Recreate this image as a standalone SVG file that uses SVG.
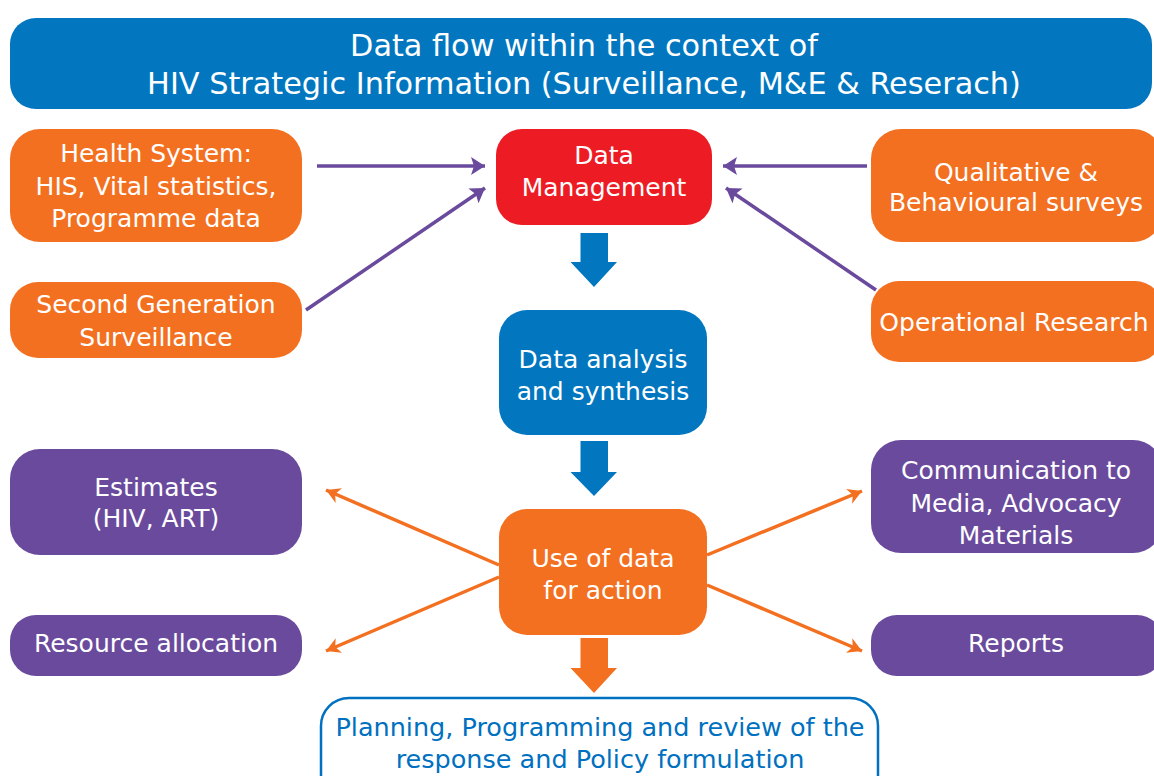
<svg xmlns="http://www.w3.org/2000/svg" width="1154" height="776" viewBox="0 0 1154 776">
<style>
.t{font-family:"DejaVu Sans","Liberation Sans",sans-serif;font-size:25px;fill:#fff;text-anchor:middle}
.tt{font-family:"DejaVu Sans","Liberation Sans",sans-serif;font-size:30.3px;fill:#fff;text-anchor:middle}
.pl{font-family:"DejaVu Sans","Liberation Sans",sans-serif;font-size:25.5px;fill:#0070C0;text-anchor:middle}
.or{fill:#F37021}
.pu{fill:#6A4A9C}
.bl{fill:#0277C0}
.pa{stroke:#6A4A9C;stroke-width:3.5;fill:none}
.oa{stroke:#F37021;stroke-width:3.5;fill:none}
</style>
<defs>
<marker id="mp" markerUnits="userSpaceOnUse" markerWidth="15" markerHeight="18" refX="14" refY="9" orient="auto">
<path d="M0,0 L14,9 L0,18 L3,9 z" fill="#6A4A9C"/>
</marker>
<marker id="mo" markerUnits="userSpaceOnUse" markerWidth="15" markerHeight="16" refX="14" refY="8" orient="auto">
<path d="M0,0 L14,8 L0,16 L4,8 z" fill="#F37021"/>
</marker>
</defs>
<rect width="1154" height="776" fill="#fff"/>
<g id="title">
<rect x="10" y="18" width="1142" height="91" rx="26" class="bl"/>
<text class="tt" x="584" y="56">Data flow within the context of</text>
<text class="tt" x="584" y="94">HIV Strategic Information (Surveillance, M&amp;E &amp; Reserach)</text>
</g>
<g id="connectors">
<line x1="317" y1="166" x2="485" y2="166" class="pa" marker-end="url(#mp)"/>
<line x1="306" y1="310" x2="485" y2="188" class="pa" marker-end="url(#mp)"/>
<line x1="867" y1="166" x2="723" y2="166" class="pa" marker-end="url(#mp)"/>
<line x1="876" y1="290" x2="726" y2="188" class="pa" marker-end="url(#mp)"/>
<polygon class="bl" points="580.5,233 608,233 608,262 617,262 594,287 570.5,262 580.5,262"/>
<polygon class="bl" points="580.5,441 608,441 608,472 617,472 594,496 570.5,472 580.5,472"/>
<polygon class="or" points="580.5,638 608,638 608,668 617,668 594,693 570.5,668 580.5,668"/>
<line x1="499" y1="565" x2="326" y2="490" class="oa" marker-end="url(#mo)"/>
<line x1="499" y1="577" x2="326" y2="651" class="oa" marker-end="url(#mo)"/>
<line x1="707" y1="555" x2="862" y2="491" class="oa" marker-end="url(#mo)"/>
<line x1="707" y1="585" x2="862" y2="651" class="oa" marker-end="url(#mo)"/>
</g>
<g id="health-system">
<rect x="10" y="129" width="292" height="113" rx="30" class="or"/>
<text class="t" x="156" y="162">Health System:</text>
<text class="t" x="156" y="195">HIS, Vital statistics,</text>
<text class="t" x="156" y="227">Programme data</text>
</g>
<g id="second-generation">
<rect x="10" y="282" width="292" height="76" rx="28" class="or"/>
<text class="t" x="156" y="313">Second Generation</text>
<text class="t" x="156" y="346">Surveillance</text>
</g>
<g id="data-management">
<rect x="496" y="129" width="216" height="96" rx="26" fill="#ED1C24"/>
<text class="t" x="604" y="164">Data</text>
<text class="t" x="604" y="196">Management</text>
</g>
<g id="qualitative">
<rect x="871" y="129" width="292" height="113" rx="30" class="or"/>
<text class="t" x="1016" y="181">Qualitative &amp;</text>
<text class="t" x="1016" y="211">Behavioural surveys</text>
</g>
<g id="operational-research">
<rect x="871" y="281" width="292" height="81" rx="28" class="or"/>
<text class="t" x="1014" y="331">Operational Research</text>
</g>
<g id="data-analysis">
<rect x="499" y="310" width="208" height="125" rx="28" class="bl"/>
<text class="t" x="603" y="368">Data analysis</text>
<text class="t" x="603" y="400">and synthesis</text>
</g>
<g id="use-of-data">
<rect x="499" y="509" width="208" height="126" rx="28" class="or"/>
<text class="t" x="603" y="567">Use of data</text>
<text class="t" x="603" y="599">for action</text>
</g>
<g id="estimates">
<rect x="10" y="449" width="292" height="106" rx="30" class="pu"/>
<text class="t" x="156" y="496">Estimates</text>
<text class="t" x="156" y="527">(HIV, ART)</text>
</g>
<g id="resource-allocation">
<rect x="10" y="615" width="292" height="61" rx="26" class="pu"/>
<text class="t" x="156" y="652">Resource allocation</text>
</g>
<g id="communication">
<rect x="871" y="440" width="292" height="113" rx="30" class="pu"/>
<text class="t" x="1016" y="479">Communication to</text>
<text class="t" x="1016" y="512">Media, Advocacy</text>
<text class="t" x="1016" y="544">Materials</text>
</g>
<g id="reports">
<rect x="871" y="615" width="292" height="61" rx="26" class="pu"/>
<text class="t" x="1016" y="652">Reports</text>
</g>
<g id="planning">
<rect x="321" y="698" width="557" height="110" rx="28" fill="#fff" stroke="#0070C0" stroke-width="2.5"/>
<text class="pl" x="600" y="736">Planning, Programming and review of the</text>
<text class="pl" x="600" y="768">response and Policy formulation</text>
</g>
</svg>
